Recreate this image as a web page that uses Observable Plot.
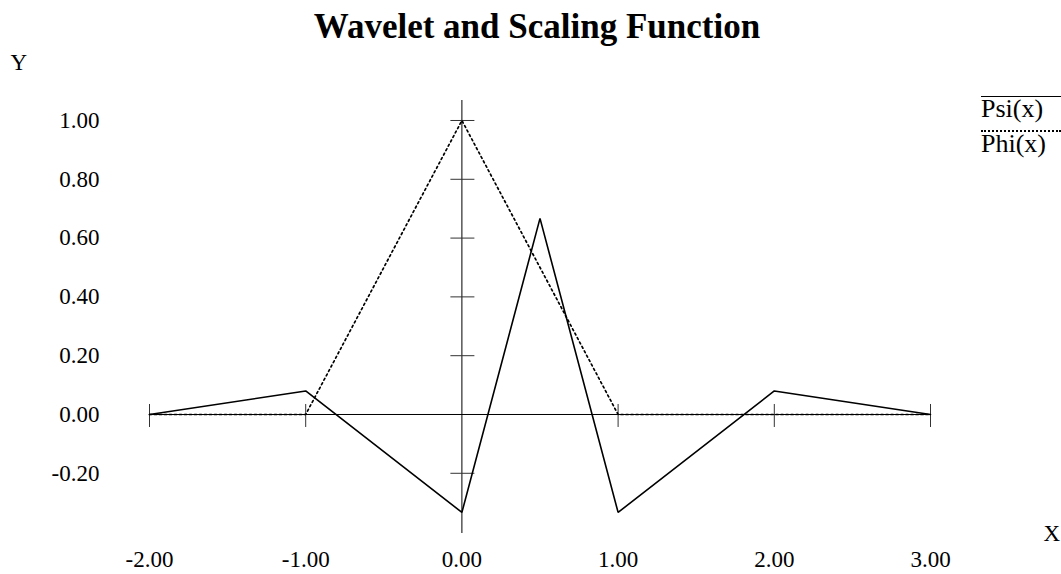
<!DOCTYPE html>
<html>
<head>
<meta charset="utf-8">
<script src="https://cdn.jsdelivr.net/npm/d3@7"></script>
<script src="https://cdn.jsdelivr.net/npm/@observablehq/plot@0.6"></script>
<style>
  html, body { margin: 0; padding: 0; background: #fff; }
  #wrap { position: relative; width: 1061px; height: 574px; font-family: "Liberation Serif", "Times New Roman", serif; }
  #wrap svg { display: block; }
  .lg-line { position: absolute; left: 981px; width: 80px; height: 0; }
  .lg-text { position: absolute; left: 981px; font-size: 26px; line-height: 26px; color: #000; white-space: nowrap; }
</style>
</head>
<body>
<div id="wrap"></div>
<script>
// ---- data ----
const psiX = [-2, -1, 0, 0.5, 1, 2, 3];
const psiY = [0, 0.08, -0.333, 0.667, -0.333, 0.08, 0];
const phiX = [-2, -1, 0, 1, 2, 3];
const phiY = [0, 0, 1, 0, 0, 0];
const xTicks = [-2, -1, 0, 1, 2, 3];
const yTicks = [-0.2, 0, 0.2, 0.4, 0.6, 0.8, 1.0];
const yTickMarks = [-0.2, 0.2, 0.4, 0.6, 0.8, 1.0];
const seriesNames = ["Psi(x)", "Phi(x)"];
const titleText = "Wavelet and Scaling Function";

const psi = psiX.map((x, i) => ({x, y: psiY[i]}));
const phi = phiX.map((x, i) => ({x, y: phiY[i]}));

const font = "Liberation Serif, Times New Roman, serif";

const chart = Plot.plot({
  width: 1061,
  height: 574,
  marginLeft: 149,
  marginRight: 131,
  marginTop: 100,
  marginBottom: 41,
  style: {fontFamily: font, background: "#fff", color: "#000"},
  x: {domain: [-2, 3], axis: null},
  y: {domain: [-0.4048, 1.068], axis: null},
  marks: [
    // axes through the origin
    Plot.ruleY([0], {x1: -2, x2: 3, stroke: "#000", strokeWidth: 1}),
    Plot.ruleX([0], {stroke: "#000", strokeWidth: 1}),
    // tick marks
    Plot.ruleX(xTicks.filter(d => d !== 0), {x: d => d, y1: 0, y2: 0, insetTop: -10, insetBottom: -13, stroke: "#333", strokeWidth: 1}),
    Plot.ruleY(yTickMarks, {y: d => d, x1: 0, x2: 0, insetLeft: -11, insetRight: -13, stroke: "#333", strokeWidth: 1}),
    // series
    Plot.line(phi, {x: "x", y: "y", stroke: "#000", strokeWidth: 1.7, strokeDasharray: "2,3", strokeLinejoin: "miter"}),
    Plot.line(psi, {x: "x", y: "y", stroke: "#000", strokeWidth: 1.6, strokeLinejoin: "miter"}),
    // tick labels
    Plot.text(yTicks, {y: d => d, text: d => d.toFixed(2), frameAnchor: "left", lineAnchor: "middle", dx: -50, textAnchor: "end", fontSize: 23, fill: "#000"}),
    Plot.text(xTicks, {x: d => d, text: d => d.toFixed(2), frameAnchor: "bottom", lineAnchor: "middle", dy: 26, textAnchor: "middle", fontSize: 23, fill: "#000"}),
    // axis names
    Plot.text(["Y"], {text: d => d, frameAnchor: "top-left", lineAnchor: "middle", dx: -139, dy: -38, textAnchor: "start", fontSize: 23, fill: "#000"}),
    Plot.text(["X"], {text: d => d, frameAnchor: "bottom-right", lineAnchor: "middle", dx: 113, dy: 0, textAnchor: "start", fontSize: 23, fill: "#000"}),
    // title
    Plot.text([titleText], {text: d => d, frameAnchor: "top", lineAnchor: "middle", dx: -3, dy: -74, textAnchor: "middle", fontSize: 35, fontWeight: "bold", fill: "#000"})
  ]
});

const wrap = document.getElementById("wrap");
wrap.appendChild(chart);

// legend (HTML overlay at top right)
const legendItems = [
  {name: seriesNames[0], lineTop: 96, textTop: 96, border: "1.6px solid #000"},
  {name: seriesNames[1], lineTop: 130, textTop: 131, border: "2px dotted #000"}
];
for (const it of legendItems) {
  const ln = document.createElement("div");
  ln.className = "lg-line";
  ln.style.top = it.lineTop + "px";
  ln.style.borderTop = it.border;
  wrap.appendChild(ln);
  const tx = document.createElement("div");
  tx.className = "lg-text";
  tx.style.top = it.textTop + "px";
  tx.textContent = it.name;
  wrap.appendChild(tx);
}
</script>
</body>
</html>
